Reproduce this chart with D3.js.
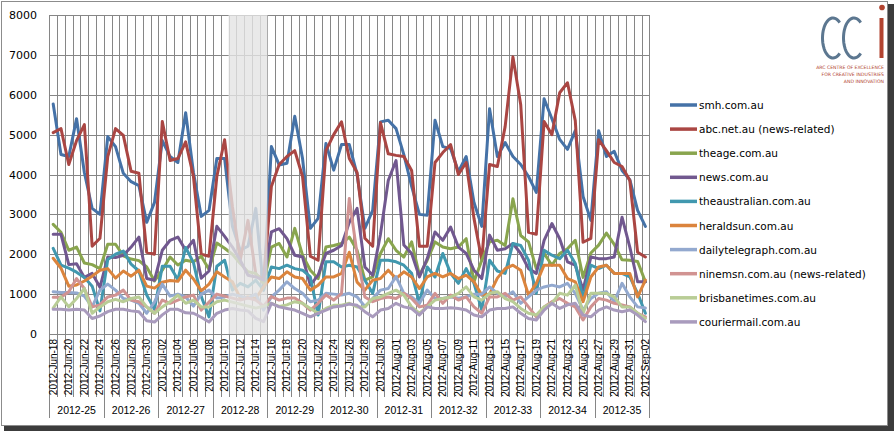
<!DOCTYPE html>
<html>
<head>
<meta charset="utf-8">
<style>
  body { margin: 0; background: #fff; }
  svg { display: block; font-family: 'DejaVu Sans', Verdana, sans-serif; }
  .ylab { font-size: 11px; fill: #000; }
  .xlab { font-size: 10px; font-family: 'Liberation Sans', Arial, sans-serif; fill: #000; }
  .wlab { font-size: 10.5px; font-family: 'Liberation Sans', Arial, sans-serif; fill: #000; }
  .leg text { font-size: 10.5px; fill: #000; }
</style>
</head>
<body>
<svg width="894" height="431"></svg>

<script src="https://d3js.org/d3.v7.min.js"></script>
<script>
  // week groups under the dates
  const weeks = ["2012-25", "2012-26", "2012-27", "2012-28", "2012-29", "2012-30",
                 "2012-31", "2012-32", "2012-33", "2012-34", "2012-35"];

  // one category per day, 18 Jun - 2 Sep 2012
  const days = d3.timeDay.range(new Date(2012, 5, 18), new Date(2012, 8, 3))
                 .map(d3.timeFormat("%Y-%b-%d"));

  const yTicks = [0, 1000, 2000, 3000, 4000, 5000, 6000, 7000, 8000];

  // shaded days (Jul 11 - Jul 15)
  const shaded = ["2012-Jul-11", "2012-Jul-15"];

  const names = ["smh.com.au", "abc.net.au (news-related)", "theage.com.au", "news.com.au",
                 "theaustralian.com.au", "heraldsun.com.au", "dailytelegraph.com.au",
                 "ninemsn.com.au (news-related)", "brisbanetimes.com.au", "couriermail.com.au"];

  const colors = ["#4572A7", "#AA4643", "#89A54E", "#71588F", "#4198AF",
                  "#DB843D", "#93A9CF", "#D19392", "#B9CD96", "#A99BBD"];

  const smh = [5770, 4500, 4450, 5400, 4050, 3150, 3000,
               4950, 4700, 4030, 3820, 3720, 2800, 3300,
               4850, 4450, 4300, 5550, 4050, 2950, 3100,
               4400, 4400, 2700, 2100, 2200, 3150, 1100,
               4700, 4240, 4280, 5460, 4400, 2650, 2900,
               4780, 4110, 4750, 4750, 4000, 2650, 3100,
               5320, 5360, 5150, 4500, 3700, 3000, 2980,
               5360, 4700, 4650, 4070, 4450, 3300, 2700,
               5650, 4450, 4800, 4450, 4250, 3950, 3550,
               5900, 5400, 4880, 4630, 5100, 3450, 2850,
               5100, 4450, 4580, 4100, 3870, 3100, 2700];

  const abc = [5050, 5150, 4250, 4850, 5250, 2200, 2400,
               4450, 5150, 4980, 4080, 4030, 2050, 2000,
               5330, 4350, 4400, 4820, 3950, 2000, 1950,
               3950, 4870, 3200, 1850, 2850, 1500, 1350,
               3700, 4250, 4450, 4600, 3950, 1950, 1850,
               4600, 5000, 5320, 4400, 4050, 2400, 2200,
               5300, 4520, 4480, 4450, 4100, 2200, 2200,
               4300, 4550, 4750, 4000, 4300, 2900, 1850,
               4250, 4200, 5200, 6950, 5750, 2550, 2500,
               5330, 5000, 6050, 6300, 5350, 2300, 2400,
               4870, 4600, 4300, 4200, 3850, 2050, 1930];

  const theage = [2750, 2550, 2100, 2180, 1780, 1740, 1640,
                  2250, 2250, 1960, 1880, 1840, 1680, 1330,
                  1600, 1930, 1730, 1850, 1810, 1950, 1620,
                  2280, 2150, 2000, 1770, 1560, 1520, 1270,
                  2180, 2270, 1930, 2650, 1975, 1600, 1390,
                  2180, 2220, 2270, 2430, 2100, 1350, 1430,
                  2020, 2390, 2100, 1930, 2310, 1475, 1850,
                  2310, 2180, 2140, 2180, 2390, 1310, 1850,
                  2310, 2350, 2220, 3390, 2470, 2310, 1640,
                  2020, 1725, 2020, 2140, 2350, 1420, 2030,
                  2230, 2530, 2250, 1860, 1850, 1820, 1310];

  const news = [2500, 2500, 1740, 1760, 1420, 1520, 1170,
                1930, 1920, 1975, 2180, 2430, 1390, 1350,
                2100, 2350, 2430, 2100, 2350, 1400, 1580,
                2700, 2450, 2180, 1850, 1475, 1430, 1350,
                2560, 2640, 2390, 1975, 1930, 1225, 1475,
                2020, 2100, 2220, 2800, 3150, 1680, 1475,
                2500, 3850, 4350, 2230, 2020, 1430, 1890,
                2560, 2350, 2680, 2180, 2020, 1600, 1390,
                2480, 2100, 2140, 2270, 2020, 1640, 1520,
                2350, 2770, 2390, 1810, 1725, 1100, 1930,
                1890, 1890, 1930, 2930, 2180, 1310, 1310];

  const theaustralian = [2150, 1730, 1650, 1550, 1420, 1200, 580,
                         1870, 2000, 2080, 1750, 1580, 980, 620,
                         1700, 1700, 1360, 2170, 1790, 940, 430,
                         1700, 1850, 1100, 1270, 1180, 1350, 1100,
                         1680, 1640, 1725, 1640, 1600, 1430, 475,
                         1810, 1810, 1680, 1725, 1680, 1350, 1020,
                         1850, 1850, 1810, 1725, 1520, 770, 1680,
                         1430, 2020, 1520, 1270, 1640, 1270, 600,
                         1850, 1580, 1520, 2270, 2220, 1850, 1020,
                         2100, 1975, 1890, 2100, 1770, 890, 1725,
                         1640, 1725, 1520, 1520, 1430, 1020, 520];

  const heraldsun = [1900, 1650, 1200, 1230, 1330, 1450, 1600,
                     1640, 1400, 1580, 1450, 1600, 1200, 1150,
                     1300, 1340, 1320, 1600, 1380, 1080, 1250,
                     1560, 1430, 1310, 900, 930, 890, 1180,
                     1430, 1390, 1560, 1430, 1390, 1100, 1225,
                     1430, 1430, 1520, 2050, 1300, 1100, 1350,
                     1390, 1600, 1390, 1560, 1430, 1140, 1430,
                     1520, 1430, 1520, 1390, 1475, 1310, 975,
                     1000, 1400, 1640, 1725, 1600, 975, 1270,
                     1725, 1725, 1725, 1390, 1310, 810, 1430,
                     1680, 1725, 1520, 1520, 1520, 930, 1350];

  const dailytelegraph = [1060, 1040, 1040, 1030, 950, 680, 1100,
                          1250, 1100, 890, 850, 770, 520, 800,
                          1250, 950, 1000, 930, 700, 1000, 1100,
                          900, 930, 1000, 950, 900, 1000, 600,
                          930, 1100, 1310, 1140, 1020, 810, 850,
                          1020, 1000, 980, 1020, 930, 690, 890,
                          1100, 1140, 1440, 1020, 930, 770, 1100,
                          890, 890, 930, 900, 930, 1000, 1000,
                          1180, 1020, 930, 1060, 770, 930, 1100,
                          1180, 1225, 1180, 1270, 1020, 600, 890,
                          1020, 1060, 810, 1270, 930, 680, 650];

  const ninemsn = [920, 920, 1060, 1390, 1140, 680, 730,
                   930, 975, 1100, 850, 810, 680, 520,
                   850, 770, 850, 930, 975, 600, 800,
                   1000, 950, 900, 850, 900, 850, 700,
                   940, 850, 900, 900, 770, 600, 770,
                   980, 850, 1020, 3400, 2000, 930, 810,
                   890, 930, 890, 1020, 890, 680, 720,
                   1020, 770, 975, 850, 930, 680, 520,
                   930, 930, 1020, 850, 930, 680, 430,
                   680, 810, 890, 770, 680, 350, 680,
                   890, 850, 770, 730, 680, 520, 430];

  const brisbanetimes = [650, 930, 680, 890, 1140, 520, 680,
                         810, 870, 810, 890, 930, 680, 520,
                         680, 810, 975, 770, 850, 680, 680,
                         810, 850, 800, 750, 700, 650, 700,
                         770, 690, 730, 810, 770, 640, 520,
                         640, 720, 720, 770, 680, 680, 890,
                         930, 1020, 1100, 975, 680, 520, 680,
                         850, 890, 930, 1020, 1180, 930, 850,
                         1020, 1060, 890, 810, 640, 520, 475,
                         680, 770, 1020, 975, 1225, 520, 1020,
                         1020, 1020, 930, 680, 680, 520, 390];

  const couriermail = [620, 620, 600, 620, 600, 390, 450,
                       560, 620, 620, 580, 560, 330, 300,
                       480, 620, 620, 530, 520, 420, 300,
                       520, 600, 640, 600, 580, 390, 310,
                       770, 680, 640, 600, 520, 430, 520,
                       600, 680, 700, 750, 720, 560, 430,
                       600, 640, 770, 680, 640, 475, 680,
                       640, 640, 660, 640, 600, 475, 430,
                       600, 640, 640, 680, 520, 390, 350,
                       600, 770, 640, 730, 770, 475, 430,
                       600, 680, 600, 560, 600, 475, 310];

  const values = [smh, abc, theage, news, theaustralian, heraldsun,
                  dailytelegraph, ninemsn, brisbanetimes, couriermail];

  let series = names.map((n, i) => ({ name: n, color: colors[i], values: values[i] }));

  let svg = d3.select("svg");

  // frame with shadow
  svg.append("rect").attr("x", 4).attr("y", 4).attr("width", 890).attr("height", 427)
    .style("fill", "#3c3c3c");
  svg.append("rect").attr("x", 1.5).attr("y", 1.5).attr("width", 886).attr("height", 424)
    .style("fill", "#fff").style("stroke", "#8c8c8c");

  let plotL = 49.3, plotR = 649.3, plotT = 15, plotB = 334;

  let x = d3.scaleBand().domain(days).range([plotL, plotR]).paddingInner(0).paddingOuter(0);
  let y = d3.scaleLinear().domain([0, 8000]).range([plotB, plotT]);
  let bw = x.bandwidth();
  let cx = d => x(d) + bw / 2;

  let edges = days.map(d => x(d)).concat([plotR]);

  // gridlines
  svg.append("g").selectAll("line").data(yTicks).join("line")
    .attr("x1", plotL).attr("x2", plotR)
    .attr("y1", d => Math.round(y(d)) + 0.5).attr("y2", d => Math.round(y(d)) + 0.5)
    .style("stroke", "#868686");

  svg.append("g").selectAll("line").data(edges).join("line")
    .attr("x1", d => Math.round(d) + 0.5).attr("x2", d => Math.round(d) + 0.5)
    .attr("y1", plotT).attr("y2", 397)
    .style("stroke", "#868686");

  // week separators
  let weekEdges = weeks.map((w, i) => x(days[i * 7])).concat([plotR]);
  svg.append("g").selectAll("line").data(weekEdges).join("line")
    .attr("x1", d => Math.round(d) + 0.5).attr("x2", d => Math.round(d) + 0.5)
    .attr("y1", 397).attr("y2", 418)
    .style("stroke", "#868686");

  // y labels
  svg.append("g").selectAll("text").data(yTicks).join("text")
    .attr("class", "ylab")
    .attr("x", 37).attr("y", d => y(d) + 4)
    .attr("text-anchor", "end")
    .text(d => d);

  // date labels, every second day
  svg.append("g").selectAll("text").data(days.filter((d, i) => i % 2 == 0)).join("text")
    .attr("class", "xlab")
    .attr("transform", d => "translate(" + (cx(d) + 3.5) + ",339) rotate(-90)")
    .attr("text-anchor", "end")
    .text(d => d);

  // week labels
  svg.append("g").selectAll("text").data(weeks).join("text")
    .attr("class", "wlab")
    .attr("x", (w, i) => x(days[i * 7]) + bw * 3.5)
    .attr("y", 414)
    .attr("text-anchor", "middle")
    .text(d => d);

  // lines
  let line = d3.line()
    .x((v, i) => cx(days[i]))
    .y(v => y(v));

  svg.append("g").selectAll("path").data(series).join("path")
    .attr("d", d => line(d.values))
    .style("fill", "none")
    .style("stroke", d => d.color)
    .style("stroke-width", 3)
    .style("stroke-linejoin", "round")
    .style("stroke-linecap", "round");

  // shaded days drawn over the lines
  svg.append("rect")
    .attr("x", x(shaded[0]))
    .attr("y", plotT)
    .attr("width", x(shaded[1]) + bw - x(shaded[0]))
    .attr("height", plotB - plotT)
    .style("fill", "#e4e4e4")
    .style("opacity", 0.8);

  // legend
  let leg = svg.append("g").attr("class", "leg").selectAll("g").data(series).join("g")
    .attr("transform", (d, i) => "translate(670," + (105 + i * 24.1) + ")");

  leg.append("line")
    .attr("x1", 0).attr("x2", 27).attr("y1", 0).attr("y2", 0)
    .style("stroke", d => d.color).style("stroke-width", 3.5);

  leg.append("text")
    .attr("x", 29).attr("y", 4)
    .text(d => d.name);

  // logo
  let logo = svg.append("g");
  let cPath = cxx => {
    let rx = 10.5, ry = 20, cy = 38;
    let a0 = -0.28 * Math.PI, a1 = 0.28 * Math.PI;
    let p = d3.path();
    p.moveTo(cxx + rx * Math.cos(a0), cy + ry * Math.sin(a0));
    for (let t = 1; t <= 40; t++) {
      let a = a0 - t / 40 * (2 * Math.PI - (a1 - a0));
      p.lineTo(cxx + rx * Math.cos(a), cy + ry * Math.sin(a));
    }
    return p.toString();
  };
  [833, 854].forEach(c => {
    logo.append("path").attr("d", cPath(c))
      .style("fill", "none").style("stroke", "#5c7790").style("stroke-width", 3);
  });
  logo.append("rect").attr("x", 879.5).attr("y", 18).attr("width", 4).attr("height", 40)
    .style("fill", "#b2432f");
  logo.append("circle").attr("cx", 882).attr("cy", 7.5).attr("r", 2.8)
    .style("fill", "#b2432f");

  logo.selectAll("text").data(["ARC CENTRE OF EXCELLENCE", "FOR CREATIVE  INDUSTRIES", "AND INNOVATION"])
    .join("text")
    .attr("x", 884).attr("y", (d, i) => 68.5 + i * 7)
    .attr("text-anchor", "end")
    .style("font-size", "4.6px")
    .style("fill", "#b2432f")
    .text(d => d);
</script>
</body>
</html>
